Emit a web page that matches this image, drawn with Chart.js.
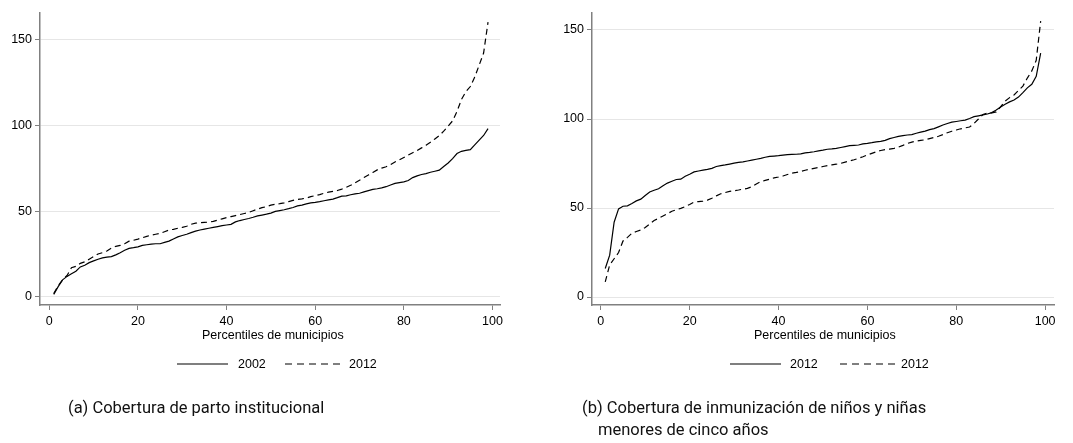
<!DOCTYPE html>
<html>
<head>
<meta charset="utf-8">
<script src="https://cdn.jsdelivr.net/npm/chart.js@4.4.1/dist/chart.umd.min.js"></script>
<style>
  html, body { margin: 0; padding: 0; background: #ffffff; }
  body { width: 1073px; height: 443px; position: relative; overflow: hidden; font-family: "Liberation Sans", Arial, sans-serif; }
  .cv { position: absolute; top: 0; }
  .t { position: absolute; font-size: 12.5px; color: #000; white-space: nowrap; line-height: 14px; }
  .cap { position: absolute; font-family: Roboto, "Noto Sans", sans-serif; font-size: 16.5px; color: #111; white-space: nowrap; line-height: 22px; }
  svg { position: absolute; left: 0; top: 0; }
</style>
</head>
<body>
<div class="cv" style="left:0px;width:536px;height:345px;"><canvas id="c1"></canvas></div>
<div class="cv" style="left:552px;width:521px;height:345px;"><canvas id="c2"></canvas></div>

<svg width="1073" height="443">
  <line x1="177" y1="364" x2="228" y2="364" stroke="#000" stroke-width="1.2"/>
  <line x1="285" y1="364" x2="343" y2="364" stroke="#000" stroke-width="1.2" stroke-dasharray="7,5"/>
  <line x1="730" y1="364" x2="781" y2="364" stroke="#000" stroke-width="1.2"/>
  <line x1="840" y1="364" x2="896" y2="364" stroke="#000" stroke-width="1.2" stroke-dasharray="7,5"/>
</svg>
<div class="t" id="ax1" style="left:202px;top:328px;">Percentiles de municipios</div>
<div class="t" id="ax2" style="left:754px;top:328px;">Percentiles de municipios</div>
<div class="t" id="lg1a" style="left:238px;top:357px;">2002</div>
<div class="t" id="lg1b" style="left:349px;top:357px;">2012</div>
<div class="t" id="lg2a" style="left:790px;top:357px;">2012</div>
<div class="t" id="lg2b" style="left:901px;top:357px;">2012</div>
<div class="cap" style="left:68px;top:397px;">(a) Cobertura de parto institucional</div>
<div class="cap" style="left:582px;top:397px;">(b) Cobertura de inmunización de niños y niñas</div>
<div class="cap" style="left:598px;top:419px;">menores de cinco años</div>

<script>
const percentiles = [1,2,3,4,5,6,7,8,9,10,11,12,13,14,15,16,17,18,19,20,21,22,23,24,25,26,27,28,29,30,31,32,33,34,35,36,37,38,39,40,41,42,43,44,45,46,47,48,49,50,51,52,53,54,55,56,57,58,59,60,61,62,63,64,65,66,67,68,69,70,71,72,73,74,75,76,77,78,79,80,81,82,83,84,85,86,87,88,89,90,91,92,93,94,95,96,97,98,99];

const xTicks = [0, 20, 40, 60, 80, 100];
const yTicks = [0, 50, 100, 150];

// Panel (a): Cobertura de parto institucional
const partoLabels = ["2002", "2012"];
const parto2002 = [1.5,6,10,12,13.5,15,17.5,18.5,20,21,22,22.8,23.2,23.5,24.5,25.8,27.2,28.3,28.7,29.2,30,30.4,30.8,31,31,31.8,32.5,33.8,35,35.8,36.5,37.5,38.3,39,39.5,40,40.5,41,41.5,41.9,42.3,43.7,44.5,45.1,45.7,46.4,47.2,47.7,48.2,48.8,49.8,50.3,50.8,51.4,52.1,53,53.5,54.2,54.8,55.1,55.5,56,56.5,57,57.8,58.7,58.9,59.5,60,60.4,61.2,61.9,62.6,63,63.5,64.2,65.2,66.1,66.6,67,67.8,69.5,70.5,71.3,71.8,72.6,73.2,73.8,76,78,80.5,83.5,84.8,85.3,85.8,88.5,91.3,94,98];
const parto2012 = [2,6.5,10,12.5,17,17.8,19.6,20.5,22,23.5,25,25.8,26.8,28.5,29.5,30,31,32.5,33,33.7,34.5,35.3,36,36.5,37,38,39,39.4,40,40.5,41.2,42.3,43,43.2,43.4,43.6,44,44.8,45.5,46.2,46.8,47.4,48,48.6,49.2,50.2,51.2,52,52.6,53.5,54,54.3,54.8,55.5,56.2,56.8,57.1,57.6,58.4,59,59.6,60.4,61,61.5,62,62.8,63.8,65,66.5,68,69.5,71,72.5,74,75,75.8,77,78.6,79.8,81.2,82.6,84,85.3,86.8,88.3,90,92,94,96.5,99.5,102.5,108,115,119.5,122.5,128,135,142,160];

// Panel (b): Cobertura de inmunización de niños y niñas menores de cinco años
const inmunLabels = ["2012", "2012"];
const inmunSolid = [16,23.5,42,49.5,51,51.2,52.5,54,55,57,59,60,60.8,62.5,64,65,66,66.2,67.8,69,70.3,70.8,71.3,71.7,72.3,73.3,73.8,74.2,74.7,75.2,75.6,75.9,76.4,76.9,77.4,77.9,78.5,79,79.2,79.4,79.7,80,80.1,80.2,80.4,81,81.2,81.6,82.1,82.5,83,83.2,83.5,84,84.5,85,85.2,85.4,86,86.3,86.7,87.2,87.4,88,89,89.6,90.2,90.7,91,91.2,92,92.6,93.2,94,94.6,95.6,96.6,97.5,98.2,98.6,99,99.4,100.3,101.3,101.8,102.3,102.8,103.6,105,106.8,108.3,109.6,110.7,112.3,114.8,117.5,119.5,124,137];
const inmunDashed = [8.5,18,21.5,25,31.5,33.5,35.8,36.8,37.6,39,41,43,44.2,45.5,46.8,48.2,49,49.8,50.8,52,53.3,53.6,53.9,54.4,55.5,56.8,58,58.7,59.3,59.7,60.1,60.6,61,62,63.5,64.8,65.5,66.2,66.9,67.4,68,68.8,69.6,70,70.5,71.2,71.8,72.3,72.8,73.3,73.8,74.2,74.6,75.1,75.8,76.4,77.1,77.9,78.8,79.8,80.7,81.6,82.3,82.8,83.1,83.5,84.2,85.2,86.3,87,87.6,88,88.3,89,89.6,90.3,91.2,92.3,93.1,93.8,94.5,95,95.5,97.5,100,102.5,103.4,103.4,104,106.9,110,112,113.5,116,118.5,123,127,133,155];

function pts(vals) { return percentiles.map((p, i) => ({ x: p, y: vals[i] })); }

const AXIS = '#808080';
const GRID = '#e6e6e6';
const FONT = { family: '"Liberation Sans", Arial, sans-serif', size: 12.5 };

function makeChart(id, labels, s1, s2, xr, yr, padRight) {
  return new Chart(document.getElementById(id), {
    type: 'line',
    data: {
      datasets: [
        { label: labels[0], data: pts(s1), borderColor: '#000', borderWidth: 1.2, pointRadius: 0, tension: 0, fill: false },
        { label: labels[1], data: pts(s2), borderColor: '#000', borderWidth: 1.2, borderDash: [6, 4], pointRadius: 0, tension: 0, fill: false }
      ]
    },
    options: {
      responsive: true,
      maintainAspectRatio: false,
      animation: false,
      events: [],
      layout: { padding: { left: 0, right: padRight, top: 13, bottom: 0 } },
      plugins: { legend: { display: false }, tooltip: { enabled: false } },
      scales: {
        x: {
          type: 'linear', min: xr[0], max: xr[1],
          afterBuildTicks: s => { s.ticks = xTicks.map(v => ({ value: v })); },
          afterFit: s => { s.height = 40; },
          grid: { drawOnChartArea: false, drawTicks: true, tickLength: 5, tickColor: AXIS, tickWidth: 1 },
          border: { display: true, color: AXIS, width: 1.5 },
          ticks: { color: '#000', font: FONT, padding: 4, maxRotation: 0, autoSkip: false }
        },
        y: {
          type: 'linear', min: yr[0], max: yr[1],
          afterBuildTicks: s => { s.ticks = yTicks.map(v => ({ value: v })); },
          afterFit: s => { s.width = 40; },
          grid: { drawOnChartArea: true, color: GRID, lineWidth: 1, drawTicks: true, tickLength: 5, tickColor: AXIS, tickWidth: 1 },
          border: { display: true, color: AXIS, width: 1.5 },
          ticks: { color: '#000', font: FONT, padding: 3, autoSkip: false }
        }
      }
    }
  });
}

makeChart('c1', partoLabels, parto2002, parto2012, [-2.1, 101.7], [-4.66, 165.3], 36);
makeChart('c2', inmunLabels, inmunSolid, inmunDashed, [-1.98, 102.0], [-4.49, 159.55], 19);
</script>
</body>
</html>
